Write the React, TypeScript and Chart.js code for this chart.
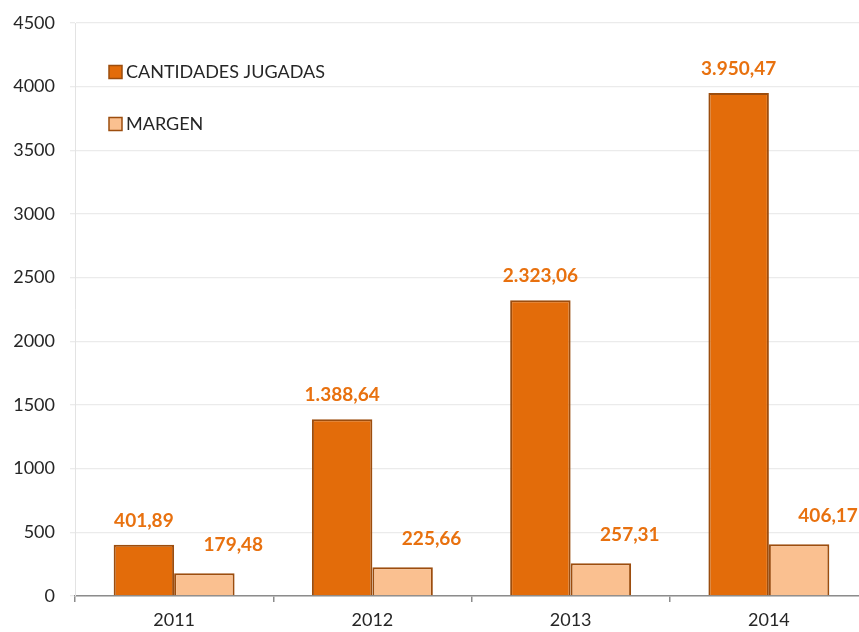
import React, { useEffect, useRef } from "react";
import { Chart, registerables } from "chart.js";

Chart.register(...registerables);

const categories = ["2011", "2012", "2013", "2014"];
const cantidadesJugadas = [401.89, 1388.64, 2323.06, 3950.47];
const margen = [179.48, 225.66, 257.31, 406.17];
const seriesNames = ["CANTIDADES JUGADAS", "MARGEN"];
const yTicks = [0, 500, 1000, 1500, 2000, 2500, 3000, 3500, 4000, 4500];

const FONT = "Lato, 'Noto Sans', sans-serif";
const DARK = "#E36C0A";
const LIGHT = "#FAC090";
const EDGE = "#9C4D0E";
const LABEL = "#E8710F";
const TEXT = "#262626";

function fmt(v: number): string {
  const [i, d] = v.toFixed(2).split(".");
  const grouped = i.replace(/\B(?=(\d{3})+(?!\d))/g, ".");
  return grouped + "," + d;
}

const labelOffsets = [
  { dx: 0, dy: 24 },
  { dx: 29, dy: 28 },
];

const valueLabels = {
  id: "valueLabels",
  afterDatasetsDraw(chart: any) {
    const ctx = chart.ctx;
    ctx.save();
    ctx.font = `bold 19px ${FONT}`;
    ctx.fillStyle = LABEL;
    ctx.textAlign = "center";
    ctx.textBaseline = "middle";
    chart.data.datasets.forEach((ds: any, di: number) => {
      const meta = chart.getDatasetMeta(di);
      const off = labelOffsets[di];
      meta.data.forEach((el: any, i: number) => {
        ctx.fillText(fmt(ds.data[i]), el.x + off.dx, el.y - off.dy);
      });
    });
    ctx.restore();
  },
};

const innerLegend = {
  id: "innerLegend",
  afterDraw(chart: any) {
    const ctx = chart.ctx;
    const area = chart.chartArea;
    ctx.save();
    ctx.font = `18px ${FONT}`;
    ctx.textBaseline = "middle";
    ctx.textAlign = "left";
    chart.data.datasets.forEach((ds: any, i: number) => {
      const x = area.left + 34;
      const y = area.top + 49 + i * 52;
      ctx.fillStyle = ds.backgroundColor;
      ctx.fillRect(x, y - 6.5, 13, 13);
      ctx.strokeStyle = ds.borderColor;
      ctx.lineWidth = 1.5;
      ctx.strokeRect(x, y - 6.5, 13, 13);
      ctx.fillStyle = TEXT;
      ctx.fillText(ds.label, x + 17, y);
    });
    ctx.restore();
  },
};

export default function App() {
  const ref = useRef<HTMLCanvasElement>(null);
  useEffect(() => {
    if (!ref.current) return;
    const chart = new Chart(ref.current, {
      type: "bar",
      data: {
        labels: categories,
        datasets: [
          {
            label: seriesNames[0],
            data: cantidadesJugadas,
            backgroundColor: DARK,
            borderColor: EDGE,
            borderWidth: 2,
            categoryPercentage: 0.61,
            barPercentage: 1,
          },
          {
            label: seriesNames[1],
            data: margen,
            backgroundColor: LIGHT,
            borderColor: EDGE,
            borderWidth: 2,
            categoryPercentage: 0.61,
            barPercentage: 1,
          },
        ],
      },
      options: {
        responsive: false,
        animation: false,
        layout: { padding: { top: 23, right: 12, left: 0, bottom: 0 } },
        plugins: {
          legend: { display: false },
          tooltip: { enabled: false },
        },
        scales: {
          x: {
            grid: {
              drawOnChartArea: false,
              drawTicks: true,
              tickLength: 6,
              color: "#8C8C8C",
              lineWidth: 1.5,
            },
            border: { color: "#8C8C8C", width: 1.5 },
            ticks: {
              color: TEXT,
              font: { family: FONT, size: 18 },
              padding: 7,
            },
            afterFit(scale: any) {
              scale.height = 36;
            },
          },
          y: {
            min: 0,
            max: 4500,
            afterBuildTicks(scale: any) {
              scale.ticks = yTicks.map((v) => ({ value: v }));
            },
            grid: {
              color: "#EBEBEB",
              lineWidth: 1.3,
              drawTicks: true,
              tickLength: 5,
            },
            border: { color: "#E3E3E3", width: 1 },
            ticks: {
              color: TEXT,
              font: { family: FONT, size: 18 },
              padding: 15,
              callback: (v: any) => String(v),
            },
            afterFit(scale: any) {
              scale.width = 75;
              scale.paddingTop = 0;
              scale.paddingBottom = 0;
            },
          },
        },
      },
      plugins: [valueLabels, innerLegend],
    });
    return () => chart.destroy();
  }, []);
  return (
    <div
      style={{
        position: "fixed",
        left: 0,
        top: 0,
        width: 859,
        height: 632,
        overflow: "hidden",
        background: "#fff",
      }}
    >
      <canvas ref={ref} width={880} height={632} style={{ width: 880, height: 632, display: "block" }} />
    </div>
  );
}
